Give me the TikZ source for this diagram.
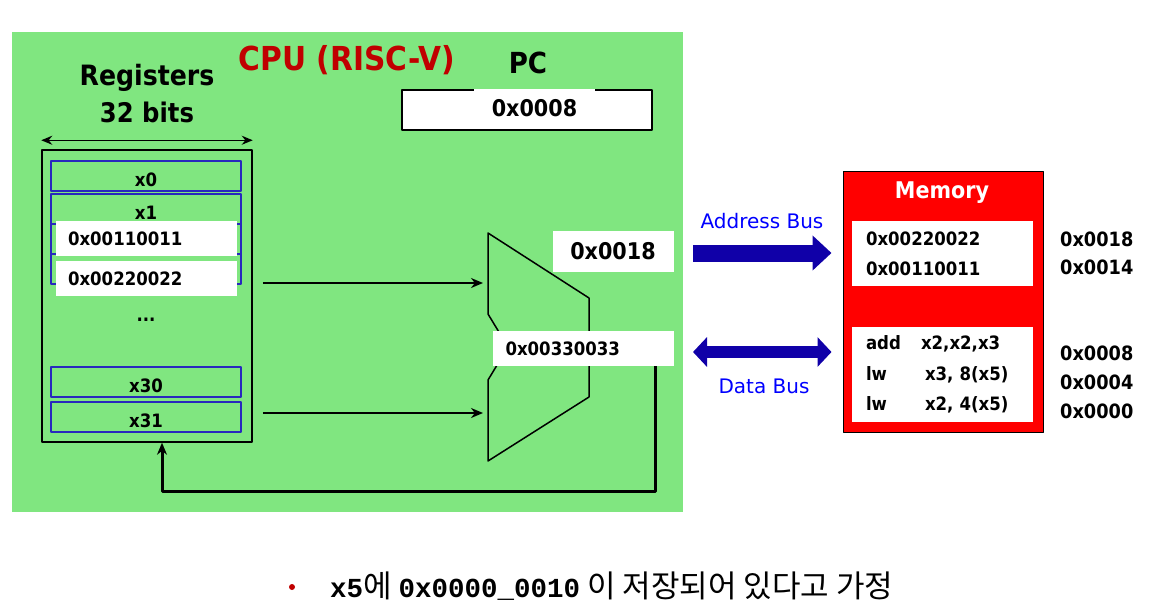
\documentclass[tikz,border=0pt]{standalone}
\usepackage{fontspec}
\setmainfont{DejaVu Sans}
\newfontfamily\tahoma[FakeStretch=0.9]{DejaVu Sans}
\newfontfamily\monob{Liberation Mono}
\newfontfamily\cjk{Noto Sans CJK KR}
\usetikzlibrary{arrows.meta,positioning}
\definecolor{cpugreen}{RGB}{128,230,128}
\definecolor{cpured}{RGB}{192,0,0}
\definecolor{memred}{RGB}{255,0,0}
\definecolor{cellblue}{RGB}{40,40,190}
\definecolor{busblue}{RGB}{16,0,168}
\definecolor{labelblue}{RGB}{0,0,255}
\newcommand{\fs}[2]{\fontsize{#1pt}{#2pt}\selectfont}
\tikzset{
  regcell/.style={draw=cellblue, line width=1.2pt, minimum width=190pt, minimum height=30pt,
    inner sep=0pt, text height=21pt, text depth=0pt},
  valbox/.style={fill=white, minimum height=35pt, text width=157pt, inner xsep=12pt,
    inner ysep=0pt, align=left},
  membox/.style={fill=white, text width=153pt, inner xsep=14pt, inner ysep=0pt, align=left},
  addr/.style={anchor=west, inner sep=0pt, align=left},
  wire/.style={line width=2.5pt},
  addrbus/.style={busblue, line width=17pt, -{Triangle[length=19pt, width=34pt]}},
  databus/.style={busblue, line width=12pt,
    {Triangle[length=14pt, width=29pt]}-{Triangle[length=14pt, width=29pt]}},
  buslabel/.style={font=\normalfont\fs{20}{24}, text=labelblue}
}
\begin{document}
\begin{tikzpicture}[x=1pt, y=-1pt, line join=round, >={Stealth[length=12pt, width=10pt]},
  every node/.style={font=\tahoma\bfseries\fs{18.4}{22}}]
 \useasboundingbox (0,0) rectangle (1168,616);
 % CPU side
 \node[fill=cpugreen, minimum width=671pt, minimum height=480pt, inner sep=0pt] (cpu) at (347.5,272) {};
 \node[font=\tahoma\bfseries\fs{33}{40}, text=cpured] (cputitle) at (347,60) {CPU (RISC-V)};
 \node[font=\tahoma\bfseries\fs{29}{34}] (pclabel) at (528,63) {PC};
 \node[draw, line width=1.5pt, fill=white, minimum width=250pt, minimum height=40pt, inner sep=0pt] (pcbox) at (527,110) {};
 \node[fill=white, minimum width=121pt, minimum height=39pt, inner sep=0pt, font=\tahoma\bfseries\fs{23}{28}] (pc) at (534.5,108.5) {0x0008};
 % register file
 \node[font=\tahoma\bfseries\fs{28}{34}] (regtitle) at (147,78) {Registers};
 \node[font=\tahoma\bfseries\fs{27}{34}] (regbits) at (147,112) {32 bits};
 \node[draw, line width=1.5pt, minimum width=210pt, minimum height=292pt, inner sep=0pt] (regs) at (147,296) {};
 \draw[{Stealth[length=11pt, width=9pt]}-{Stealth[length=11pt, width=9pt]}, line width=1.5pt]
  ([yshift=9pt]regs.north west) -- ([yshift=9pt]regs.north east);
 \foreach \r/\y/\t in {x0/176/x0, x1/209/x1, x2/239/{}, x3/269/{}, x30/382/x30, x31/417/x31}
  \node[regcell] (\r) at (146,\y) {\t};
 \node[valbox] (v1) at (146.5,238.5) {0x00110011};
 \node[valbox] (v2) at (146.5,278.5) {0x00220022};
 \node (dots) at (146,320) {...};
 % adder
 \draw[line width=1.5pt] (488,233) -- (589,298) -- (589,397) -- (488,461) -- (488,380)
  -- (508,347) -- (488,314) -- cycle;
 \coordinate (in1) at (483,283);
 \coordinate (in2) at (483,413);
 \draw[wire,->] ([xshift=10pt]regs.east |- in1) -- (in1);
 \draw[wire,->] ([xshift=10pt]regs.east |- in2) -- (in2);
 \node[fill=white, minimum width=121pt, minimum height=41pt, inner sep=0pt, font=\tahoma\bfseries\fs{23}{28}] (sum) at (613,251.5) {0x0018};
 \node[valbox, text width=155pt, inner xsep=13pt] (res) at (583,348.5) {0x00330033};
 \coordinate (fb) at (655,491);
 \draw[line width=3pt,->] (res.south -| fb) -- (fb) -| ([xshift=15pt]regs.south);
 % memory side
 \node[draw, line width=1pt, fill=memred, minimum width=200pt, minimum height=261pt, inner sep=0pt] (mem) at (943,301.5) {};
 \node[text=white, font=\tahoma\bfseries\fs{23}{28}] (memtitle) at (942,193) {Memory};
 \node[membox, minimum height=65pt, font=\tahoma\bfseries\fs{18.4}{30}] (data) at (942.5,253.5) {0x00220022\\0x00110011};
 \node[membox, minimum height=95pt, font=\tahoma\bfseries\fs{18.4}{30.5}] (code) at (942.5,374.5)
  {\makebox[55pt][l]{add}x2,x2,x3\\\makebox[59pt][l]{lw}x3, 8(x5)\\\makebox[59pt][l]{lw}x2, 4(x5)};
 \node[addr, font=\tahoma\bfseries\fs{19.7}{28}] (hiaddr) at (1060,253) {0x0018\\0x0014};
 \node[addr, font=\tahoma\bfseries\fs{19.7}{29}] (loaddr) at (1060,382) {0x0008\\0x0004\\0x0000};
 % buses
 \coordinate (abus) at (693,253);
 \coordinate (dbus) at (693,352);
 \draw[addrbus] (abus) -- ([xshift=-11pt]mem.west |- abus);
 \draw[databus] (dbus) -- ([xshift=-11pt]mem.west |- dbus);
 \node[buslabel] (alabel) at (762,221) {Address Bus};
 \node[buslabel] (dlabel) at (764,386) {Data Bus};
 % note
 \node[circle, fill=cpured, inner sep=0pt, minimum size=6pt] (dot) at (292,587) {};
 \node[anchor=west, inner sep=0pt, font=\cjk\fs{31}{34}] (note) at (330,586)
  {{\monob\bfseries\fs{27.5}{32}x5}에 {\monob\bfseries\fs{27.5}{32}0x0000\_0010} 이 저장되어 있다고 가정};
\end{tikzpicture}
\end{document}
